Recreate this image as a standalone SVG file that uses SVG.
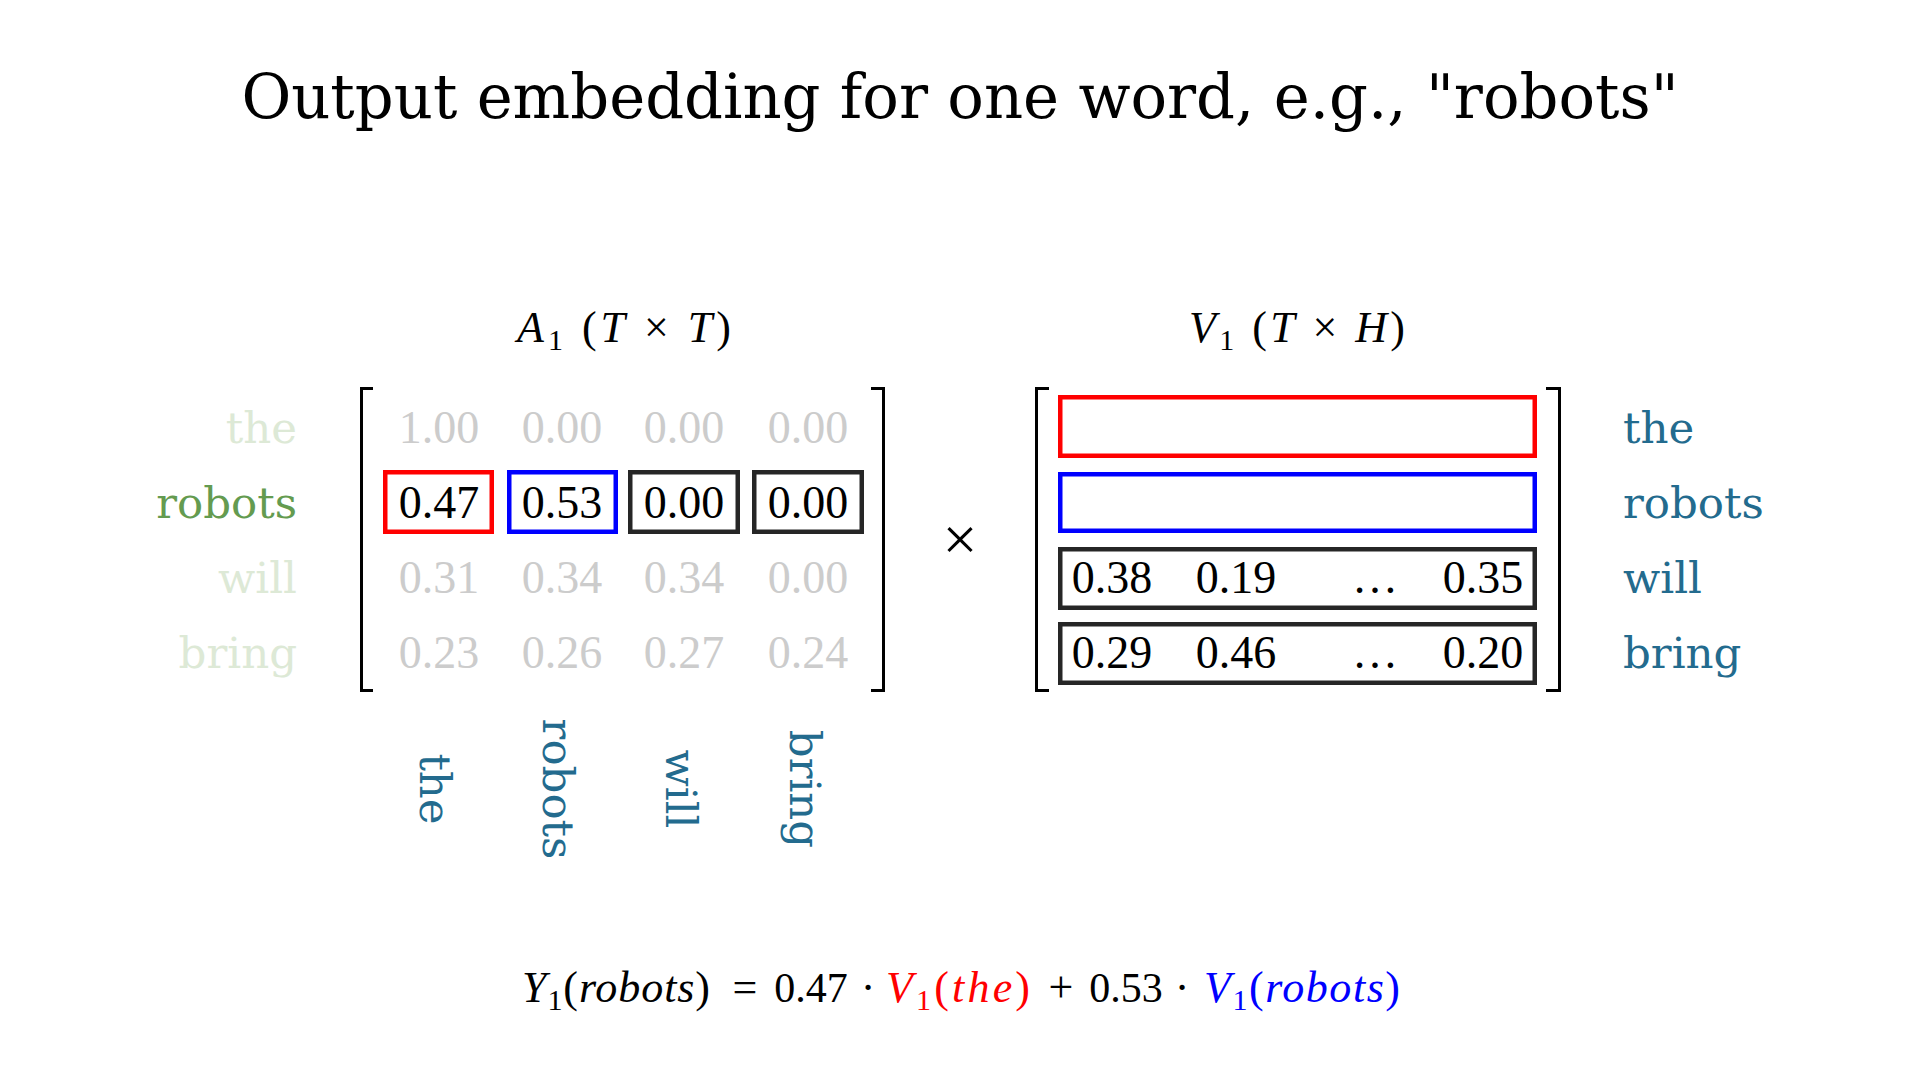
<svg xmlns="http://www.w3.org/2000/svg" width="1920" height="1080" viewBox="0 0 1920 1080">
<style>
.title{font-family:"DejaVu Serif",serif;font-size:60.8px;fill:#000;text-anchor:middle}
.lbl{font-family:"DejaVu Serif",serif;font-size:43.5px}
.faint{fill:#dde9d6}
.hl{fill:#649b50}
.teal{fill:#236b8e}
.num{font-family:"Liberation Serif",serif;font-size:46px;text-anchor:middle}
.gray{fill:#cccccc}
.blk{fill:#000}
.math{font-family:"Liberation Serif",serif;font-size:44px;text-anchor:middle;fill:#000}
.it{font-style:italic}
.sub{font-size:30px}
.br{fill:none;stroke:#000;stroke-width:3}
.box{fill:none;stroke-width:4.5}
.red{stroke:#ff0000}
.blue{stroke:#0000ff}
.dark{stroke:#262626}
</style>
<rect width="1920" height="1080" fill="#fff"/>
<text class="title" x="960" y="118">Output embedding for one word, e.g., "robots"</text>

<g id="matrixA">
  <text class="math" x="624" y="342" textLength="214" lengthAdjust="spacing"><tspan class="it">A</tspan><tspan class="sub" dy="8">1</tspan><tspan dy="-8"> (</tspan><tspan class="it">T</tspan> × <tspan class="it">T</tspan>)</text>
  <path class="br" d="M373,388.5 H361.5 V690.5 H373"/>
  <path class="br" d="M871,388.5 H883.5 V690.5 H871"/>
  <g id="rowlabels-left" class="lbl" text-anchor="end">
    <text class="faint" x="297" y="443">the</text>
    <text class="hl" x="297" y="518">robots</text>
    <text class="faint" x="297" y="593">will</text>
    <text class="faint" x="297" y="668">bring</text>
  </g>
  <g id="A-row1" class="num gray">
    <text x="439" y="443">1.00</text><text x="562" y="443">0.00</text><text x="684" y="443">0.00</text><text x="808" y="443">0.00</text>
  </g>
  <g id="A-row2">
    <rect class="box red" x="385.25" y="472.25" width="106.5" height="59.5"/>
    <rect class="box blue" x="509.25" y="472.25" width="106.5" height="59.5"/>
    <rect class="box dark" x="630.25" y="472.25" width="107.5" height="59.5"/>
    <rect class="box dark" x="754.25" y="472.25" width="107.5" height="59.5"/>
    <g class="num blk">
      <text x="439" y="518">0.47</text><text x="562" y="518">0.53</text><text x="684" y="518">0.00</text><text x="808" y="518">0.00</text>
    </g>
  </g>
  <g id="A-row3" class="num gray">
    <text x="439" y="593">0.31</text><text x="562" y="593">0.34</text><text x="684" y="593">0.34</text><text x="808" y="593">0.00</text>
  </g>
  <g id="A-row4" class="num gray">
    <text x="439" y="668">0.23</text><text x="562" y="668">0.26</text><text x="684" y="668">0.27</text><text x="808" y="668">0.24</text>
  </g>
  <g id="collabels" class="lbl teal" text-anchor="middle">
    <text transform="translate(420,789) rotate(90)">the</text>
    <text transform="translate(543,789) rotate(90)">robots</text>
    <text transform="translate(666,789) rotate(90)">will</text>
    <text transform="translate(790,789) rotate(90)">bring</text>
  </g>
</g>

<g id="times">
  <text x="960" y="560" font-family="Liberation Serif, serif" font-size="62" text-anchor="middle">×</text>
</g>

<g id="matrixV">
  <text class="math" x="1297" y="342" textLength="216" lengthAdjust="spacing"><tspan class="it">V</tspan><tspan class="sub" dy="8">1</tspan><tspan dy="-8"> (</tspan><tspan class="it">T</tspan> × <tspan class="it">H</tspan>)</text>
  <path class="br" d="M1049,388.5 H1036.5 V690.5 H1049"/>
  <path class="br" d="M1546,388.5 H1559.5 V690.5 H1546"/>
  <rect id="V-row1" class="box red" x="1060.25" y="397.25" width="474.5" height="58.5"/>
  <rect id="V-row2" class="box blue" x="1060.25" y="474.25" width="474.5" height="56.5"/>
  <g id="V-row3">
    <rect class="box dark" x="1060.25" y="549.25" width="474.5" height="58.5"/>
    <g class="num blk"><text x="1112" y="593">0.38</text><text x="1236" y="593">0.19</text><text x="1375" y="593">…</text><text x="1483" y="593">0.35</text></g>
  </g>
  <g id="V-row4">
    <rect class="box dark" x="1060.25" y="624.25" width="474.5" height="58.5"/>
    <g class="num blk"><text x="1112" y="668">0.29</text><text x="1236" y="668">0.46</text><text x="1375" y="668">…</text><text x="1483" y="668">0.20</text></g>
  </g>
  <g id="rowlabels-right" class="lbl teal">
    <text x="1623" y="443">the</text>
    <text x="1623" y="518">robots</text>
    <text x="1623" y="593">will</text>
    <text x="1623" y="668">bring</text>
  </g>
</g>

<g id="equation" class="math">
  <text x="616" y="1002" textLength="188" lengthAdjust="spacing"><tspan class="it">Y</tspan><tspan class="sub" dy="8">1</tspan><tspan dy="-8">(</tspan><tspan class="it">robots</tspan>)</text>
  <text x="745" y="1002">=</text>
  <text x="811" y="1002" font-size="42">0.47</text>
  <text x="868" y="1002">·</text>
  <text x="958" y="1002" fill="#ff0000" textLength="144" lengthAdjust="spacing"><tspan class="it">V</tspan><tspan class="sub" dy="8">1</tspan><tspan dy="-8">(</tspan><tspan class="it">the</tspan>)</text>
  <text x="1061" y="1002">+</text>
  <text x="1126" y="1002" font-size="42">0.53</text>
  <text x="1182" y="1002">·</text>
  <text x="1302" y="1002" fill="#0000ff" textLength="196" lengthAdjust="spacing"><tspan class="it">V</tspan><tspan class="sub" dy="8">1</tspan><tspan dy="-8">(</tspan><tspan class="it">robots</tspan>)</text>
</g>
</svg>
